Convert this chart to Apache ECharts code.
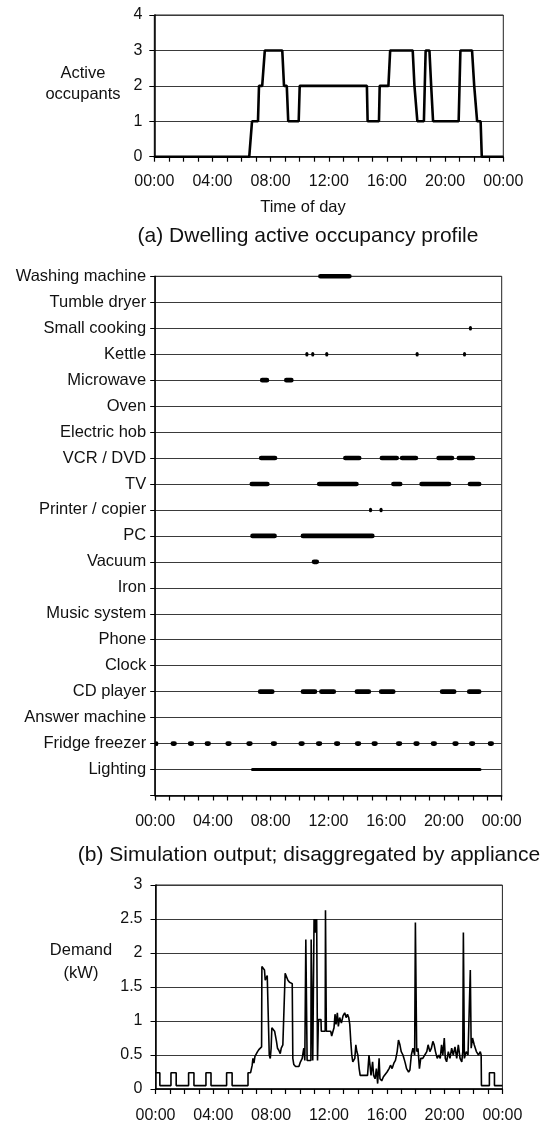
<!DOCTYPE html>
<html>
<head>
<meta charset="utf-8">
<script src="https://cdn.jsdelivr.net/npm/echarts@6/dist/echarts.min.js"></script>
<style>
html,body{margin:0;padding:0;background:#fff;}
#chart{width:545px;height:1124px;}
</style>
</head>
<body>
<div id="chart"></div>
<script>
// ---------- DATA ----------
// (a) active occupancy: change points (hour, occupants)
const occTime  = [0, 6.53, 6.72, 7.13, 7.2, 7.42, 7.6, 8.8, 8.92, 9.11, 9.21, 9.93, 10.0, 14.62, 14.67, 15.45, 15.5, 16.1, 16.22, 17.77, 17.89, 18.01, 18.09, 18.54, 18.66, 18.92, 19.04, 19.1, 19.17, 20.93, 21.05, 21.85, 22.0, 22.13, 22.2, 22.44, 22.52, 24];
const occValue = [0, 0, 1, 1, 2, 2, 3, 3, 2, 2, 1, 1, 2, 2, 1, 1, 2, 2, 3, 3, 2, 2, 1, 1, 3, 3, 2, 2, 1, 1, 3, 3, 2, 2, 1, 1, 0, 0];

// (b) appliance rows, top to bottom
const applianceNames = ['Washing machine','Tumble dryer','Small cooking','Kettle','Microwave','Oven','Electric hob','VCR / DVD','TV','Printer / copier','PC','Vacuum','Iron','Music system','Phone','Clock','CD player','Answer machine','Fridge freezer','Lighting'];
// on periods [start hour, end hour]
const washingMachineOn = [[11.28, 13.61]];
const tumbleDryerOn = [];
const smallCookingOn = [[21.73, 21.79]];
const kettleOn = [[10.40, 10.46], [10.81, 10.87], [11.78, 11.84], [18.04, 18.10], [21.32, 21.38]];
const microwaveOn = [[7.25, 7.90], [8.92, 9.59]];
const ovenOn = [];
const electricHobOn = [];
const vcrDvdOn = [[7.18, 8.46], [13.01, 14.29], [15.54, 16.89], [16.94, 18.22], [19.47, 20.72], [20.87, 22.17]];
const tvOn = [[6.53, 7.93], [11.20, 14.10], [16.34, 17.13], [18.29, 20.51], [21.64, 22.60]];
const printerOn = [[14.81, 14.87], [15.54, 15.60]];
const pcOn = [[6.58, 8.43], [10.07, 15.20]];
const vacuumOn = [[10.84, 11.35]];
const ironOn = [];
const musicSystemOn = [];
const phoneOn = [];
const clockOn = [];
const cdPlayerOn = [[7.11, 8.27], [10.07, 11.23], [11.35, 12.53], [13.81, 14.96], [15.49, 16.65], [19.71, 20.87], [21.59, 22.60]];
const answerMachineOn = [];
const fridgeFreezerOn = [[0, 0.2], [1.06, 1.50], [2.26, 2.70], [3.42, 3.86], [4.86, 5.30], [6.31, 6.75], [8.00, 8.44], [9.92, 10.36], [11.13, 11.57], [12.38, 12.82], [13.83, 14.27], [14.98, 15.42], [16.67, 17.11], [17.88, 18.32], [19.08, 19.52], [20.58, 21.02], [21.73, 22.17], [23.03, 23.47]];
const lightingOn = [[6.63, 22.60]];

// (c) total demand: (hour, kW)
const demandTime = [0,0.3,0.3,1.07,1.07,1.43,1.43,2.29,2.29,2.66,2.66,3.49,3.49,3.84,3.84,4.92,4.92,5.3,5.3,6.4,6.4,6.58,6.69,6.74,6.81,6.88,6.97,7.06,7.15,7.27,7.34,7.36,7.45,7.54,7.59,7.68,7.73,7.84,7.87,7.94,8.0,8.05,8.14,8.24,8.3,8.37,8.44,8.53,8.63,8.7,8.81,8.93,8.97,9.06,9.16,9.27,9.46,9.5,9.57,9.69,9.92,10.03,10.15,10.22,10.26,10.3,10.33,10.38,10.4,10.47,10.49,10.75,10.77,10.86,10.88,10.95,10.97,11.02,11.05,11.1,11.15,11.2,11.21,11.25,11.27,11.45,11.47,11.74,11.76,11.8,11.82,12.12,12.19,12.28,12.35,12.42,12.49,12.58,12.65,12.74,12.86,12.98,13.09,13.19,13.28,13.37,13.44,13.51,13.58,13.65,13.72,13.79,13.86,13.93,14.0,14.09,14.16,14.44,14.67,14.77,14.84,14.91,15.02,15.09,15.19,15.28,15.37,15.47,15.53,15.65,15.77,15.88,16.02,16.16,16.26,16.37,16.49,16.6,16.72,16.81,16.91,17.0,17.12,17.19,17.28,17.37,17.51,17.6,17.7,17.81,17.93,17.98,18.02,18.07,18.16,18.26,18.35,18.49,18.63,18.77,18.86,18.98,19.09,19.19,19.28,19.37,19.49,19.6,19.7,19.79,19.88,19.98,20.05,20.14,20.26,20.37,20.49,20.6,20.72,20.84,20.95,21.07,21.19,21.26,21.3,21.34,21.37,21.5,21.62,21.74,21.78,21.81,21.84,21.93,22.05,22.2,22.35,22.47,22.53,22.55,23.1,23.1,23.45,23.45,24];
const demandKW = [0.24,0.24,0.05,0.05,0.24,0.24,0.05,0.05,0.24,0.24,0.05,0.05,0.24,0.24,0.05,0.05,0.24,0.24,0.05,0.05,0.24,0.24,0.35,0.45,0.38,0.48,0.5,0.55,0.58,0.6,0.62,1.8,1.82,1.75,1.6,1.58,1.67,1.68,0.5,0.45,0.6,0.9,0.92,0.85,0.83,0.7,0.6,0.57,0.52,0.6,0.65,0.65,1.7,1.68,1.6,1.57,1.55,0.45,0.36,0.33,0.33,0.4,0.45,0.55,0.6,0.5,0.42,0.42,2.2,2.2,0.42,0.42,2.2,2.2,0.42,0.42,2.5,2.3,2.5,2.3,2.5,2.5,0.42,0.42,1.02,1.02,0.85,0.85,2.63,2.63,0.85,0.85,0.78,0.85,0.9,1.1,0.95,1.12,0.92,1.05,0.97,1.08,1.12,1.05,1.1,1.05,0.95,0.7,0.5,0.4,0.38,0.45,0.65,0.55,0.5,0.3,0.2,0.2,0.2,0.5,0.35,0.2,0.4,0.2,0.15,0.3,0.08,0.45,0.15,0.12,0.18,0.2,0.25,0.3,0.35,0.3,0.38,0.42,0.55,0.72,0.65,0.55,0.5,0.45,0.38,0.3,0.25,0.28,0.5,0.6,0.5,2.45,2.45,0.55,0.6,0.3,0.45,0.45,0.5,0.55,0.65,0.55,0.6,0.7,0.65,0.55,0.45,0.5,0.45,0.65,0.5,0.75,0.45,0.4,0.55,0.45,0.6,0.5,0.62,0.45,0.65,0.45,0.4,0.55,2.3,2.3,0.45,0.55,0.5,0.5,1.75,1.75,0.6,0.75,0.65,0.55,0.5,0.55,0.5,0.05,0.05,0.24,0.24,0.05,0.05];

// ---------- BUILD ----------
const appliancePeriods = [washingMachineOn, tumbleDryerOn, smallCookingOn, kettleOn, microwaveOn, ovenOn, electricHobOn, vcrDvdOn, tvOn, printerOn, pcOn, vacuumOn, ironOn, musicSystemOn, phoneOn, clockOn, cdPlayerOn, answerMachineOn, fridgeFreezerOn, lightingOn];
const nRows = applianceNames.length;
const barData = [];
appliancePeriods.forEach((periods, i) => {
  const row = nRows - i;
  periods.forEach(p => barData.push([row, p[0], p[1]]));
});
const occData = occTime.map((t, i) => [t, occValue[i]]);
const demandData = demandTime.map((t, i) => [t, demandKW[i]]);

const FONT = '"Liberation Sans", Arial, sans-serif';
const TXT = '#111';
const GRIDC = '#3a3a3a';

function hourLabel(v) {
  if (Math.round(v) % 4 !== 0) return '';
  const h = Math.round(v) % 24;
  return (h < 10 ? '0' : '') + h + ':00';
}
function xAxisFor(gridIndex, margin) {
  return {
    gridIndex, type: 'value', min: 0, max: 24, interval: 1,
    axisLine: { show: true, onZero: false, lineStyle: { color: '#000', width: 1.5 } },
    axisTick: { show: true, length: 5, inside: false, lineStyle: { color: '#000', width: 1.2 } },
    axisLabel: { formatter: hourLabel, fontFamily: FONT, fontSize: 16, color: TXT, margin, showMinLabel: true, showMaxLabel: true },
    splitLine: { show: false }
  };
}

const chart = echarts.init(document.getElementById('chart'), null, { renderer: 'canvas' });
chart.setOption({
  animation: false,
  backgroundColor: '#fff',
  grid: [
    { left: 154.3, right: 545 - 503.3, top: 15, height: 141.7, show: true, borderColor: '#222', borderWidth: 1 },
    { left: 155.2, right: 545 - 501.7, top: 276.3, height: 519.2, show: true, borderColor: '#222', borderWidth: 1 },
    { left: 155.5, right: 545 - 502.4, top: 885, height: 204.3, show: true, borderColor: '#222', borderWidth: 1 }
  ],
  xAxis: [xAxisFor(0, 17), xAxisFor(1, 18), xAxisFor(2, 19)],
  yAxis: [
    {
      gridIndex: 0, type: 'value', min: 0, max: 4, interval: 1,
      axisLine: { show: true, lineStyle: { color: '#000', width: 1.5 } },
      axisTick: { show: true, length: 5, lineStyle: { color: '#000' } },
      axisLabel: { fontFamily: FONT, fontSize: 16, color: TXT, margin: 12 },
      splitLine: { show: true, lineStyle: { color: GRIDC, width: 1 } }
    },
    {
      gridIndex: 1, type: 'value', min: 0, max: nRows, interval: 1,
      axisLine: { show: true, lineStyle: { color: '#000', width: 1.5 } },
      axisTick: { show: true, length: 5, lineStyle: { color: '#000' } },
      axisLabel: {
        fontFamily: FONT, fontSize: 16.5, color: TXT, margin: 9,
        formatter: v => (v >= 1 && v <= nRows) ? applianceNames[nRows - v] : ''
      },
      splitLine: { show: true, lineStyle: { color: GRIDC, width: 1 } }
    },
    {
      gridIndex: 2, type: 'value', min: 0, max: 3, interval: 0.5,
      axisLine: { show: true, lineStyle: { color: '#000', width: 1.5 } },
      axisTick: { show: true, length: 5, lineStyle: { color: '#000' } },
      axisLabel: { fontFamily: FONT, fontSize: 16, color: TXT, margin: 13 },
      splitLine: { show: true, lineStyle: { color: GRIDC, width: 1 } }
    }
  ],
  series: [
    {
      type: 'line', xAxisIndex: 0, yAxisIndex: 0, data: occData,
      symbol: 'none', lineStyle: { color: '#000', width: 2.6 }, z: 5
    },
    {
      type: 'custom', xAxisIndex: 1, yAxisIndex: 1, data: barData, clip: false,
      encode: { x: [1, 2], y: 0 },
      renderItem: function (params, api) {
        const row = api.value(0);
        const p0 = api.coord([api.value(1), row]);
        const p1 = api.coord([api.value(2), row]);
        const h = row === 1 ? 3 : 4.6;
        const w = Math.max(p1[0] - p0[0], 3);
        return {
          type: 'rect',
          shape: { x: p0[0], y: p0[1] - h / 2, width: w, height: h, r: h / 2 },
          style: { fill: '#000' }
        };
      },
      z: 5
    },
    {
      type: 'line', xAxisIndex: 2, yAxisIndex: 2, data: demandData,
      symbol: 'none', lineStyle: { color: '#000', width: 1.6 }, z: 5
    }
  ],
  graphic: [
    { type: 'text', style: { text: 'Active\noccupants', x: 83, y: 84, textAlign: 'center', textVerticalAlign: 'middle', font: '16.5px ' + FONT, fill: TXT, lineHeight: 21 } },
    { type: 'text', style: { text: 'Time of day', x: 303, y: 207.5, textAlign: 'center', textVerticalAlign: 'middle', font: '16.5px ' + FONT, fill: TXT } },
    { type: 'text', style: { text: '(a) Dwelling active occupancy profile', x: 308, y: 236, textAlign: 'center', textVerticalAlign: 'middle', font: '21px ' + FONT, fill: TXT } },
    { type: 'text', style: { text: '(b) Simulation output; disaggregated by appliance', x: 309, y: 855, textAlign: 'center', textVerticalAlign: 'middle', font: '21px ' + FONT, fill: TXT } },
    { type: 'text', style: { text: 'Demand\n(kW)', x: 81, y: 962, textAlign: 'center', textVerticalAlign: 'middle', font: '16.5px ' + FONT, fill: TXT, lineHeight: 22.5 } }
  ]
});
</script>
</body>
</html>
